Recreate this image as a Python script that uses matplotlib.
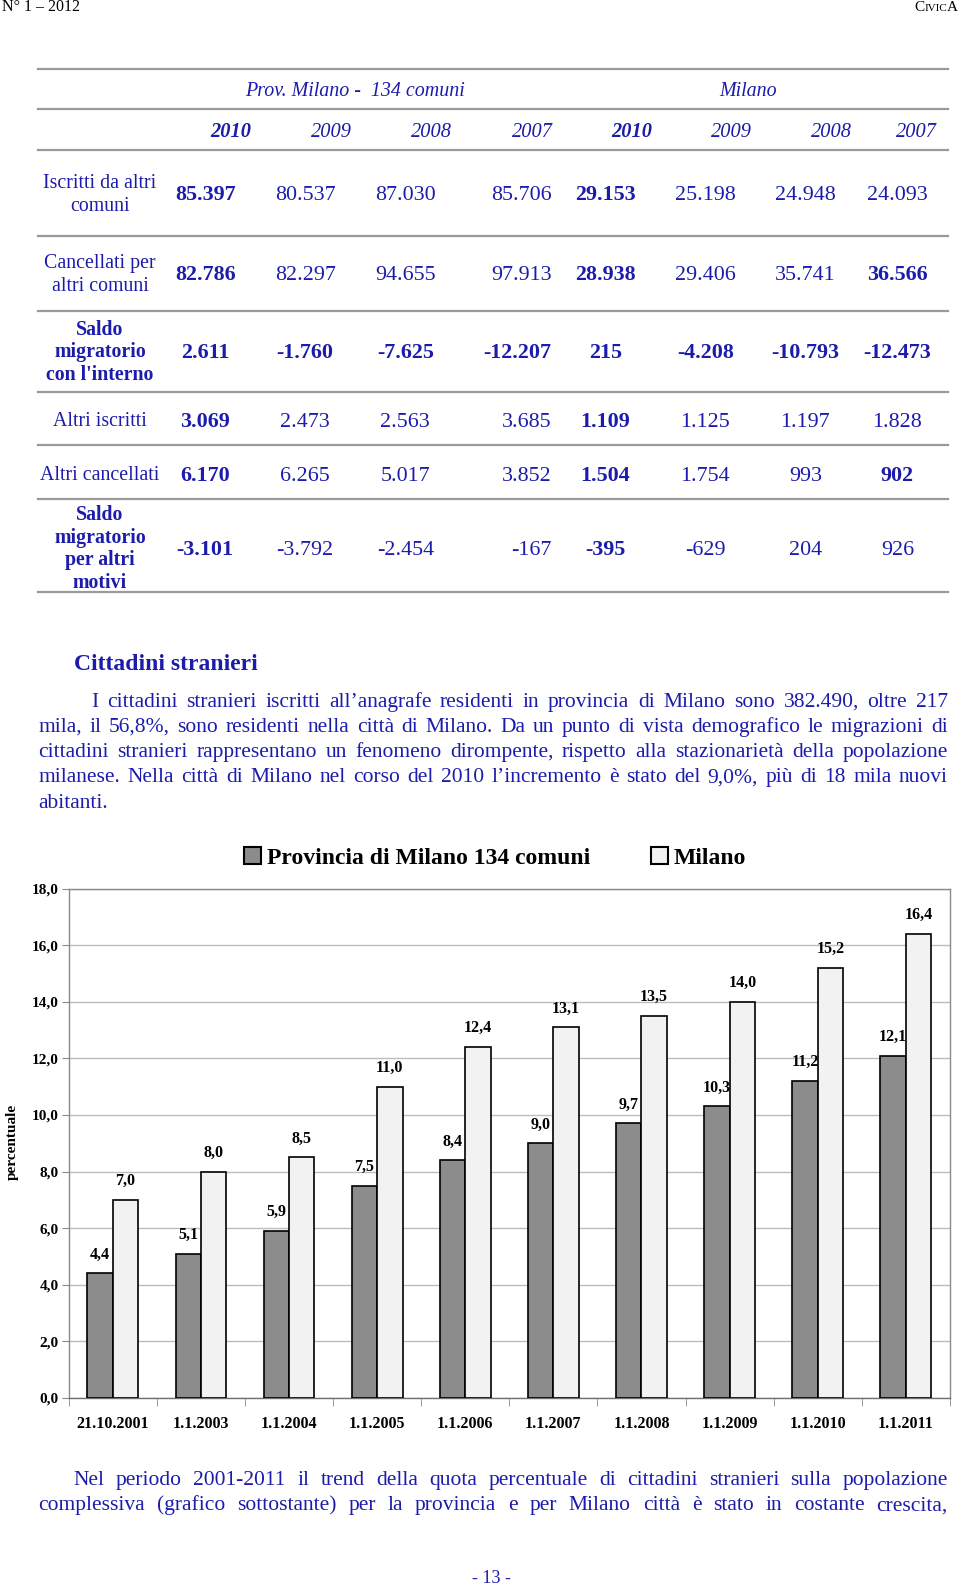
import matplotlib
matplotlib.use('Agg')
import numpy as np
import matplotlib.pyplot as plt
from matplotlib.lines import Line2D
from matplotlib.patches import Patch

plt.rcParams['font.family'] = ['Liberation Serif', 'DejaVu Serif']

# ---------------- data ----------------
header_left = "N° 1 – 2012"
group_labels = ["Prov. Milano -  134 comuni", "Milano"]
years = ["2010", "2009", "2008", "2007", "2010", "2009", "2008", "2007"]
year_bold = [True, False, False, False, True, False, False, False]

row_labels = [["Iscritti da altri", "comuni"],
              ["Cancellati per", "altri comuni"],
              ["Saldo", "migratorio", "con l'interno"],
              ["Altri iscritti"],
              ["Altri cancellati"],
              ["Saldo", "migratorio", "per altri", "motivi"]]
row_label_bold = [False, False, True, False, False, True]

iscritti_altri_comuni = ["85.397", "80.537", "87.030", "85.706", "29.153", "25.198", "24.948", "24.093"]
cancellati_altri_comuni = ["82.786", "82.297", "94.655", "97.913", "28.938", "29.406", "35.741", "36.566"]
saldo_interno = ["2.611", "-1.760", "-7.625", "-12.207", "215", "-4.208", "-10.793", "-12.473"]
altri_iscritti = ["3.069", "2.473", "2.563", "3.685", "1.109", "1.125", "1.197", "1.828"]
altri_cancellati = ["6.170", "6.265", "5.017", "3.852", "1.504", "1.754", "993", "902"]
saldo_altri_motivi = ["-3.101", "-3.792", "-2.454", "-167", "-395", "-629", "204", "926"]
table_rows = [iscritti_altri_comuni, cancellati_altri_comuni, saldo_interno,
              altri_iscritti, altri_cancellati, saldo_altri_motivi]
extra_bold_cells = [(1, 7), (4, 7)]

section_title = "Cittadini stranieri"
paragraph1 = ["I cittadini stranieri iscritti all’anagrafe residenti in provincia di Milano sono 382.490, oltre 217",
              "mila, il 56,8%, sono residenti nella città di Milano. Da un punto di vista demografico le migrazioni di",
              "cittadini stranieri rappresentano un fenomeno dirompente, rispetto alla stazionarietà della popolazione",
              "milanese. Nella città di Milano nel corso del 2010 l’incremento è stato del 9,0%, più di 18 mila nuovi",
              "abitanti."]
paragraph2 = ["Nel periodo 2001-2011 il trend della quota percentuale di cittadini stranieri sulla popolazione",
              "complessiva (grafico sottostante) per la provincia e per Milano città è stato in costante crescita,"]

categories = ["21.10.2001", "1.1.2003", "1.1.2004", "1.1.2005", "1.1.2006",
              "1.1.2007", "1.1.2008", "1.1.2009", "1.1.2010", "1.1.2011"]
series_names = ["Provincia di Milano 134 comuni", "Milano"]
provincia = [4.4, 5.1, 5.9, 7.5, 8.4, 9.0, 9.7, 10.3, 11.2, 12.1]
milano = [7.0, 8.0, 8.5, 11.0, 12.4, 13.1, 13.5, 14.0, 15.2, 16.4]
y_label = "percentuale"
page_number = "- 13 -"

# ---------------- helpers ----------------
W, H = 950.0, 1568.0
SC = 960.0 / 950.0


def fx(x):
    return x / W


def fy(y):
    return 1 - y / H


BLUE = '#1c1cac'
GRAYLINE = '#9a9a9a'

fig = plt.figure(figsize=(9.6, 15.85), dpi=100)
renderer = fig.canvas.get_renderer()


def hline(y, x0=38, x1=938, color=GRAYLINE, lw=1.6):
    fig.add_artist(Line2D([fx(x0), fx(x1)], [fy(y), fy(y)], transform=fig.transFigure,
                          color=color, lw=lw))


def text_line(s, x0, x1, y, fs, color, justify=True, weight='normal'):
    words = s.split(' ')
    if not justify or len(words) == 1:
        fig.text(fx(x0), fy(y), s, fontsize=fs, color=color, ha='left', va='baseline', fontweight=weight)
        return
    texts = [fig.text(0, fy(y), w, fontsize=fs, color=color, ha='left', va='baseline', fontweight=weight)
             for w in words]
    widths = [t.get_window_extent(renderer).width / SC for t in texts]
    gap = ((x1 - x0) - sum(widths)) / (len(words) - 1)
    x = x0
    for t, w in zip(texts, widths):
        t.set_x(fx(x))
        x += w + gap


# ---------------- header ----------------
fig.text(fx(2), fy(7), header_left, fontsize=11.5, color='black', ha='left', va='center')
parts = [("C", 11), ("IVIC", 8), ("A", 11)]
x = 948
for s, fs in reversed(parts):
    t = fig.text(fx(x), fy(11), s, fontsize=fs, color='black', ha='right', va='baseline')
    x -= t.get_window_extent(renderer).width / SC

# ---------------- table ----------------
for y in [68, 108, 148, 233, 308, 388, 440, 494, 586]:
    hline(y)

fig.text(fx(351), fy(89 + 6), group_labels[0], fontsize=14.4, style='italic', color=BLUE,
         ha='center', va='baseline')
fig.text(fx(740), fy(89 + 6), group_labels[1], fontsize=14.4, style='italic', color=BLUE,
         ha='center', va='baseline')

year_x = [228, 328, 427, 527, 625, 724, 823, 907]
for yx, yr, b in zip(year_x, years, year_bold):
    fig.text(fx(yx), fy(129 + 7), yr, fontsize=14.7, style='italic', fontweight='bold' if b else 'normal',
             color=BLUE, ha='center', va='baseline')

row_y = [191, 270, 347, 415, 469, 542]
label_line_y = [[180, 203], [259, 282], [325, 347, 370], [415], [469], [508, 531, 553, 576]]
for labels, ly, b in zip(row_labels, label_line_y, row_label_bold):
    for s, yy in zip(labels, ly):
        fig.text(fx(99), fy(yy + 6), s, fontsize=14.3, color=BLUE, ha='center', va='baseline',
                 fontweight='bold' if b else 'normal')

col_x = [203, 302, 401, 546, 599, 698, 797, 888]
col_ha = ['center', 'center', 'center', 'right', 'center', 'center', 'center', 'center']
for r, (vals, ry) in enumerate(zip(table_rows, row_y)):
    for c, v in enumerate(vals):
        bold = (c in (0, 4)) or r == 2 or (r, c) in extra_bold_cells
        fig.text(fx(col_x[c]), fy(ry + 7), v, fontsize=15.8, color=BLUE, ha=col_ha[c], va='baseline',
                 fontweight='bold' if bold else 'normal')

# ---------------- text ----------------
fig.text(fx(73), fy(656 + 7), section_title, fontsize=17, fontweight='bold', color=BLUE,
         ha='left', va='baseline')

p1_y = [693, 718, 743, 768, 793]
for i, (s, yy) in enumerate(zip(paragraph1, p1_y)):
    x0 = 90 if i == 0 else 38
    text_line(s, x0, 938, yy + 6, 15.5, BLUE, justify=(i < len(paragraph1) - 1))

p2_y = [1463, 1488]
for i, (s, yy) in enumerate(zip(paragraph2, p2_y)):
    x0 = 73 if i == 0 else 38
    text_line(s, x0, 938, yy + 6, 15.5, BLUE, justify=True)

fig.text(fx(486), fy(1560 + 6), page_number, fontsize=13, color=BLUE, ha='center', va='baseline')

# ---------------- chart ----------------
ax = fig.add_axes([fx(68), fy(1383), fx(940) - fx(68), fy(879) - fy(1383)])
xpos = np.arange(len(categories))
bw = 0.288
ax.bar(xpos - bw / 2, provincia, bw, color='#8c8c8c', edgecolor='black', linewidth=1.2, zorder=3)
ax.bar(xpos + bw / 2, milano, bw, color='#f2f2f2', edgecolor='black', linewidth=1.2, zorder=3)


def fmt(v):
    return f"{v:.1f}".replace('.', ',')


for xs, vals in [(xpos - bw / 2, provincia), (xpos + bw / 2, milano)]:
    for xi, v in zip(xs, vals):
        ax.annotate(fmt(v), (xi, v), xytext=(0, 13.5), textcoords='offset points',
                    ha='center', va='center', fontsize=11.5, fontweight='bold', zorder=2)

ax.set_xlim(-0.5, len(categories) - 0.5)
ax.set_ylim(0, 18)
yt = np.arange(0, 18.1, 2)
ax.set_yticks(yt)
ax.set_yticklabels([fmt(v) for v in yt], fontsize=11, fontweight='bold')
ax.yaxis.grid(True, color='#bdbdbd', lw=1.0, zorder=0)
ax.set_axisbelow(True)
ax.set_xticks(xpos)
ax.set_xticklabels(categories, fontsize=11.5, fontweight='bold')
ax.set_xticks(np.arange(-0.5, len(categories), 1), minor=True)
ax.tick_params(axis='x', which='major', length=0, pad=13)
ax.tick_params(axis='x', which='minor', length=6, color='#8a8a8a', direction='out')
ax.tick_params(axis='y', length=5, color='#8a8a8a', pad=2)
for sp in ax.spines.values():
    sp.set_color('#8a8a8a')
    sp.set_linewidth(1.0)
ax.spines['bottom'].set_color('#707070')

fig.text(fx(12), fy(1130), y_label, rotation=90, fontsize=11, fontweight='bold',
         ha='center', va='center')

handles = [Patch(facecolor='#8c8c8c', edgecolor='black', linewidth=1.5, label=series_names[0]),
           Patch(facecolor='#f2f2f2', edgecolor='black', linewidth=1.5, label=series_names[1])]
fig.legend(handles=handles, loc='center', bbox_to_anchor=(fx(490), fy(849)), ncol=2, frameon=False,
           prop={'family': 'Liberation Serif', 'weight': 'bold', 'size': 17},
           handlelength=0.7, handleheight=0.7,
           handletextpad=0.25, columnspacing=2.6, borderpad=0, borderaxespad=0)

fig.savefig('out.png', dpi=100)
